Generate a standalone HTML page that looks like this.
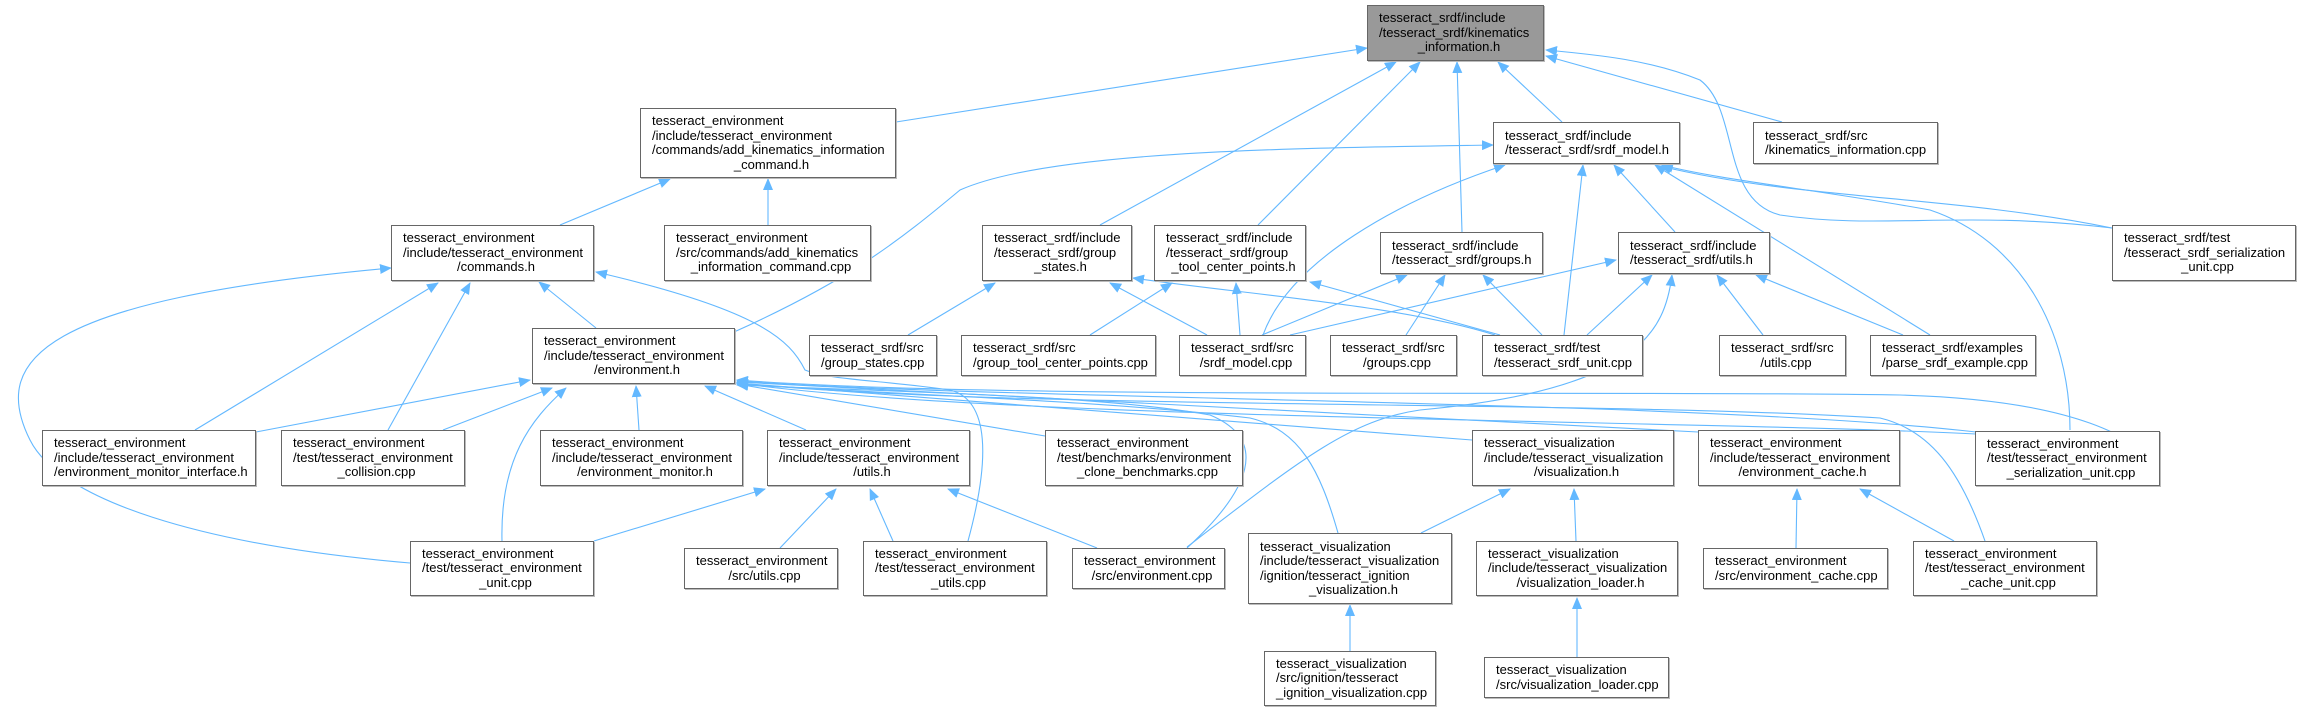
<!DOCTYPE html>
<html><head><meta charset="utf-8"><style>
html,body{margin:0;padding:0;background:#fff;}
#c{position:relative;width:2301px;height:711px;overflow:hidden;font-family:"Liberation Sans",sans-serif;font-size:13px;color:#000;}
.n{position:absolute;box-sizing:border-box;border:1px solid #666;background:#fff;display:flex;flex-direction:column;justify-content:center;padding:0 4px 0 11px;line-height:14.5px;white-space:nowrap;box-shadow:1px 1px 0 #bbb;}
.n div{text-align:left}
.n .c{text-align:center}
.r{background:#999;}
svg{position:absolute;left:0;top:0;}
</style></head><body><div id="c">
<svg width="2301" height="711" viewBox="0 0 2301 711">
<defs><marker id="a" markerWidth="12" markerHeight="10" refX="11" refY="5" orient="auto" markerUnits="userSpaceOnUse"><path d="M0,0 L12,5 L0,10 z" fill="#63b8ff"/></marker></defs>
<g fill="none" stroke="#63b8ff" stroke-width="1.1" marker-end="url(#a)">
<!-- root incoming -->
<path d="M896,122 L1367,48"/>
<path d="M1100,225 L1396,62"/>
<path d="M1258,225 L1420,62"/>
<path d="M1462,232 L1457,62"/>
<path d="M1562,122 L1498,62"/>
<path d="M1782,122 L1546,56"/>
<path d="M2112,228 C1960,210 1880,230 1780,215 C1720,200 1740,110 1700,80 C1650,60 1600,55 1546,50"/>
<!-- add_kin cmd -->
<path d="M560,225 L670,179"/>
<path d="M768,225 L768,179"/>
<!-- commands.h -->
<path d="M195,430 L438,283"/>
<path d="M388,430 L470,283"/>
<path d="M596,328 L539,282"/>
<path d="M410,563 C200,545 60,500 30,440 C-10,360 40,300 391,268"/>
<path d="M968,541 C990,460 990,400 950,390 C880,380 830,380 805,370 C790,340 760,310 596,272"/>
<!-- environment.h incoming -->
<path d="M256,432 L530,380"/>
<path d="M443,430 L552,388"/>
<path d="M639,430 L636,386"/>
<path d="M806,430 L705,386"/>
<path d="M502,541 C500,460 530,420 566,388"/>
<path d="M1045,436 L737,384"/>
<path d="M1472,440 L737,383"/>
<path d="M1698,432 L737,382"/>
<path d="M1976,432 C1700,400 1000,400 737,381"/>
<path d="M1976,434 C1700,420 1000,420 737,383"/>
<path d="M1985,541 C1960,470 1930,430 1880,418 C1600,400 1000,410 737,383"/>
<path d="M1338,533 C1320,470 1300,430 1250,418 C1100,400 900,395 737,384"/>
<path d="M1187,548 C1250,490 1270,440 1210,415 C1100,395 900,392 737,385"/>
<path d="M2160,470 C2140,440 2080,400 1900,395 C1600,390 1000,400 737,380"/>
<!-- environment.h -> srdf_model.h -->
<path d="M734,332 C850,280 900,240 960,190 C1050,150 1300,148 1493,145"/>
<!-- env utils.h -->
<path d="M594,541 L765,489"/>
<path d="M780,548 L836,489"/>
<path d="M893,541 L870,489"/>
<path d="M1097,548 L948,489"/>
<!-- group_states.h -->
<path d="M908,335 L995,283"/>
<path d="M1207,335 L1110,283"/>
<path d="M1495,335 C1400,305 1250,295 1133,278"/>
<!-- group_tcp.h -->
<path d="M1090,335 L1172,283"/>
<path d="M1240,335 L1236,283"/>
<path d="M1500,335 L1310,282"/>
<!-- groups.h -->
<path d="M1262,335 L1407,275"/>
<path d="M1406,335 L1445,275"/>
<path d="M1542,335 L1483,275"/>
<!-- srdf utils.h -->
<path d="M1290,335 L1616,260"/>
<path d="M1587,335 L1652,275"/>
<path d="M1187,547 C1300,460 1350,420 1420,410 C1640,390 1665,330 1672,275"/>
<path d="M1763,335 L1717,275"/>
<path d="M1903,335 L1756,275"/>
<!-- srdf_model.h -->
<path d="M1263,335 C1290,260 1400,200 1505,165"/>
<path d="M1564,335 L1583,165"/>
<path d="M1675,232 L1614,165"/>
<path d="M1930,335 L1655,165"/>
<path d="M2112,228 C1950,195 1800,200 1660,166"/>
<path d="M2070,430 C2070,330 2020,240 1930,210 C1820,190 1720,180 1662,165"/>
<!-- visualization -->
<path d="M1421,533 L1510,489"/>
<path d="M1576,541 L1574,489"/>
<path d="M1350,651 L1350,605"/>
<path d="M1577,657 L1577,598"/>
<path d="M1796,548 L1797,489"/>
<path d="M1954,541 L1860,489"/>
</g>
</svg>

<div class="n r" style="left:1367px;top:5px;width:177px;height:56px"><div>tesseract_srdf/include</div><div>/tesseract_srdf/kinematics</div><div class="c">_information.h</div></div>
<div class="n" style="left:640px;top:108px;width:256px;height:70px"><div>tesseract_environment</div><div>/include/tesseract_environment</div><div>/commands/add_kinematics_information</div><div class="c">_command.h</div></div>
<div class="n" style="left:1493px;top:122px;width:187px;height:42px"><div>tesseract_srdf/include</div><div>/tesseract_srdf/srdf_model.h</div></div>
<div class="n" style="left:1753px;top:122px;width:185px;height:42px"><div>tesseract_srdf/src</div><div>/kinematics_information.cpp</div></div>

<div class="n" style="left:391px;top:225px;width:203px;height:56px"><div>tesseract_environment</div><div>/include/tesseract_environment</div><div class="c">/commands.h</div></div>
<div class="n" style="left:664px;top:225px;width:207px;height:56px"><div>tesseract_environment</div><div>/src/commands/add_kinematics</div><div class="c">_information_command.cpp</div></div>
<div class="n" style="left:982px;top:225px;width:150px;height:56px"><div>tesseract_srdf/include</div><div>/tesseract_srdf/group</div><div class="c">_states.h</div></div>
<div class="n" style="left:1154px;top:225px;width:152px;height:56px"><div>tesseract_srdf/include</div><div>/tesseract_srdf/group</div><div class="c">_tool_center_points.h</div></div>
<div class="n" style="left:1380px;top:232px;width:163px;height:42px"><div>tesseract_srdf/include</div><div>/tesseract_srdf/groups.h</div></div>
<div class="n" style="left:1618px;top:232px;width:152px;height:42px"><div>tesseract_srdf/include</div><div>/tesseract_srdf/utils.h</div></div>
<div class="n" style="left:2112px;top:225px;width:184px;height:56px"><div>tesseract_srdf/test</div><div>/tesseract_srdf_serialization</div><div class="c">_unit.cpp</div></div>

<div class="n" style="left:532px;top:328px;width:203px;height:56px"><div>tesseract_environment</div><div>/include/tesseract_environment</div><div class="c">/environment.h</div></div>
<div class="n" style="left:809px;top:335px;width:128px;height:41px"><div>tesseract_srdf/src</div><div>/group_states.cpp</div></div>
<div class="n" style="left:961px;top:335px;width:195px;height:41px"><div>tesseract_srdf/src</div><div>/group_tool_center_points.cpp</div></div>
<div class="n" style="left:1179px;top:335px;width:127px;height:41px"><div>tesseract_srdf/src</div><div class="c">/srdf_model.cpp</div></div>
<div class="n" style="left:1330px;top:335px;width:127px;height:41px"><div>tesseract_srdf/src</div><div class="c">/groups.cpp</div></div>
<div class="n" style="left:1482px;top:335px;width:161px;height:41px"><div>tesseract_srdf/test</div><div>/tesseract_srdf_unit.cpp</div></div>
<div class="n" style="left:1719px;top:335px;width:127px;height:41px"><div>tesseract_srdf/src</div><div class="c">/utils.cpp</div></div>
<div class="n" style="left:1870px;top:335px;width:166px;height:41px"><div>tesseract_srdf/examples</div><div>/parse_srdf_example.cpp</div></div>

<div class="n" style="left:42px;top:430px;width:214px;height:56px"><div>tesseract_environment</div><div>/include/tesseract_environment</div><div>/environment_monitor_interface.h</div></div>
<div class="n" style="left:281px;top:430px;width:184px;height:56px"><div>tesseract_environment</div><div>/test/tesseract_environment</div><div class="c">_collision.cpp</div></div>
<div class="n" style="left:540px;top:430px;width:203px;height:56px"><div>tesseract_environment</div><div>/include/tesseract_environment</div><div class="c">/environment_monitor.h</div></div>
<div class="n" style="left:767px;top:430px;width:203px;height:56px"><div>tesseract_environment</div><div>/include/tesseract_environment</div><div class="c">/utils.h</div></div>
<div class="n" style="left:1045px;top:430px;width:198px;height:56px"><div>tesseract_environment</div><div>/test/benchmarks/environment</div><div class="c">_clone_benchmarks.cpp</div></div>
<div class="n" style="left:1472px;top:430px;width:202px;height:56px"><div>tesseract_visualization</div><div>/include/tesseract_visualization</div><div class="c">/visualization.h</div></div>
<div class="n" style="left:1698px;top:430px;width:202px;height:56px"><div>tesseract_environment</div><div>/include/tesseract_environment</div><div class="c">/environment_cache.h</div></div>
<div class="n" style="left:1975px;top:431px;width:185px;height:55px"><div>tesseract_environment</div><div>/test/tesseract_environment</div><div class="c">_serialization_unit.cpp</div></div>

<div class="n" style="left:410px;top:541px;width:184px;height:55px"><div>tesseract_environment</div><div>/test/tesseract_environment</div><div class="c">_unit.cpp</div></div>
<div class="n" style="left:684px;top:548px;width:154px;height:41px"><div>tesseract_environment</div><div class="c">/src/utils.cpp</div></div>
<div class="n" style="left:863px;top:541px;width:184px;height:55px"><div>tesseract_environment</div><div>/test/tesseract_environment</div><div class="c">_utils.cpp</div></div>
<div class="n" style="left:1072px;top:548px;width:153px;height:41px"><div>tesseract_environment</div><div class="c">/src/environment.cpp</div></div>
<div class="n" style="left:1248px;top:533px;width:204px;height:71px"><div>tesseract_visualization</div><div>/include/tesseract_visualization</div><div>/ignition/tesseract_ignition</div><div class="c">_visualization.h</div></div>
<div class="n" style="left:1476px;top:541px;width:202px;height:55px"><div>tesseract_visualization</div><div>/include/tesseract_visualization</div><div class="c">/visualization_loader.h</div></div>
<div class="n" style="left:1703px;top:548px;width:185px;height:41px"><div>tesseract_environment</div><div>/src/environment_cache.cpp</div></div>
<div class="n" style="left:1913px;top:541px;width:184px;height:55px"><div>tesseract_environment</div><div>/test/tesseract_environment</div><div class="c">_cache_unit.cpp</div></div>

<div class="n" style="left:1264px;top:651px;width:172px;height:55px"><div>tesseract_visualization</div><div>/src/ignition/tesseract</div><div>_ignition_visualization.cpp</div></div>
<div class="n" style="left:1484px;top:657px;width:185px;height:41px"><div>tesseract_visualization</div><div>/src/visualization_loader.cpp</div></div>
</div></body></html>
